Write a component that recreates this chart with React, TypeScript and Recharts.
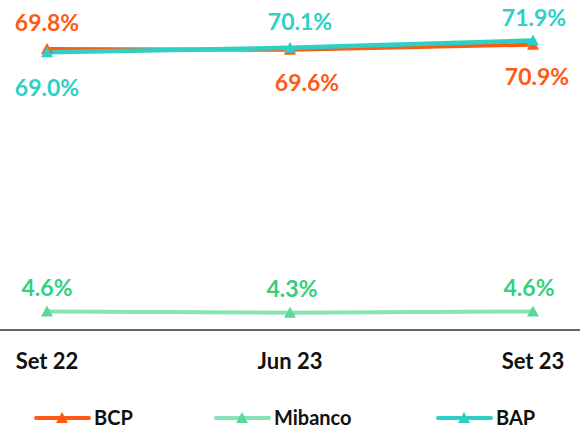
import { LineChart, Line, XAxis, YAxis, LabelList } from 'recharts';

const periods = ['Set 22', 'Jun 23', 'Set 23'];
const bcpValues = [69.8, 69.6, 70.9];
const mibancoValues = [4.6, 4.3, 4.6];
const bapValues = [69.0, 70.1, 71.9];

const chartData = periods.map((period, i) => ({
  period,
  bcp: bcpValues[i],
  mibanco: mibancoValues[i],
  bap: bapValues[i],
}));

const FONT = 'Lato, "Open Sans", sans-serif';

const series = [
  { key: 'bcp', name: 'BCP', line: '#FF5A14', marker: '#FF5A14', label: '#FF5A14', width: 4 },
  { key: 'mibanco', name: 'Mibanco', line: '#86E4B6', marker: '#5DD89B', label: '#36CF7E', width: 4 },
  { key: 'bap', name: 'BAP', line: '#2ED0C6', marker: '#2ED0C6', label: '#2ED0C6', width: 4.5 },
];

// label offsets from each point (dx, dy), per series
const labelOffsets: Record<string, [number, number][]> = {
  bcp: [[0, -27], [17, 32], [4, 31]],
  mibanco: [[0, -24], [2, -25], [-4, -24]],
  bap: [[0, 35], [10, -27], [1, -24]],
};

// left edge of each legend item
const legendLeft = [33, 213, 435];

const Triangle = ({ cx, cy, fill }: any) => {
  if (cx == null || cy == null) return null;
  return <polygon points={`${cx},${cy - 6} ${cx - 6},${cy + 5} ${cx + 6},${cy + 5}`} fill={fill} />;
};

const makeLabel = (key: string, color: string) => (props: any) => {
  const { x, y, value, index } = props;
  const [dx, dy] = labelOffsets[key][index];
  return (
    <text
      x={x + dx}
      y={y + dy}
      textAnchor="middle"
      dominantBaseline="central"
      fill={color}
      fontFamily={FONT}
      fontWeight={700}
      fontSize={23}
    >
      {value.toFixed(1)}%
    </text>
  );
};

const PeriodTick = ({ x, y, payload }: any) => (
  <text x={x} y={y + 22} textAnchor="middle" dominantBaseline="central" fill="#111" fontFamily={FONT} fontWeight={700} fontSize={22}>
    {payload.value}
  </text>
);

const LegendIcon = ({ color, marker }: { color: string; marker: string }) => (
  <svg width={58} height={14} style={{ display: 'block' }}>
    <line x1={3} y1={8} x2={56} y2={8} stroke={color} strokeWidth={4} strokeLinecap="round" />
    <polygon points="29,2 23,13 35,13" fill={marker} />
  </svg>
);

export default function App() {
  return (
    <div style={{ position: 'absolute', left: 0, top: 0, width: 580, height: 431, background: '#fff' }}>
      <LineChart width={580} height={431} data={chartData} margin={{ top: 8, right: 0, bottom: 0, left: 0 }}>
        <XAxis
          dataKey="period"
          padding={{ left: 47, right: 47 }}
          height={101}
          tickLine={false}
          axisLine={{ stroke: '#333', strokeWidth: 1.5 }}
          tick={<PeriodTick />}
          interval={0}
        />
        <YAxis hide domain={[0, 80]} />
        {series.map((s) => (
          <Line
            key={s.key}
            dataKey={s.key}
            name={s.name}
            stroke={s.line}
            strokeWidth={s.width}
            dot={<Triangle fill={s.marker} />}
            activeDot={false}
            isAnimationActive={false}
          >
            <LabelList dataKey={s.key} content={makeLabel(s.key, s.label)} />
          </Line>
        ))}
      </LineChart>
      {series.map((s, i) => (
        <div
          key={s.key}
          style={{
            position: 'absolute',
            top: 406,
            left: legendLeft[i],
            display: 'flex',
            alignItems: 'center',
            gap: 3,
            fontFamily: FONT,
            fontWeight: 700,
            fontSize: 20,
            color: '#111',
          }}
        >
          <LegendIcon color={s.line} marker={s.marker} />
          <span style={{ lineHeight: '22px' }}>{s.name}</span>
        </div>
      ))}
    </div>
  );
}
